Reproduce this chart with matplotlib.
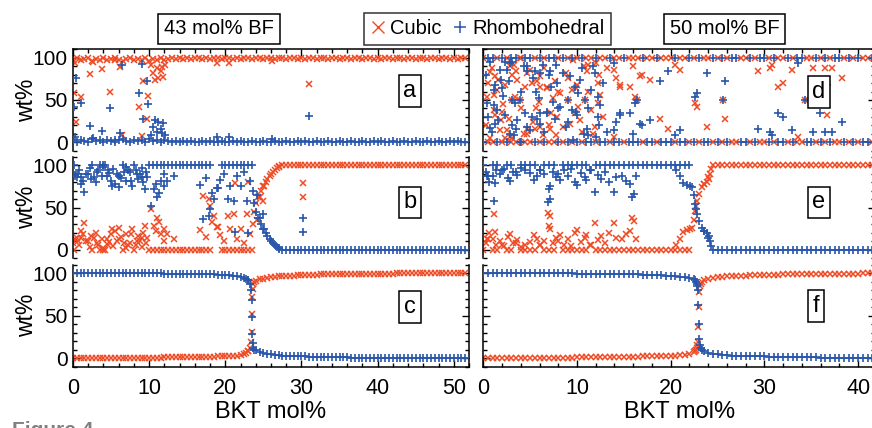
import numpy as np
import matplotlib.pyplot as plt
from matplotlib.lines import Line2D
from matplotlib.ticker import MultipleLocator

plt.rcParams['font.family'] = ['Liberation Sans', 'DejaVu Sans']

RED = '#ef4c26'
BLUE = '#2856aa'

# BKT mol% sampling grids (43 mol% BF left, 50 mol% BF right)
bkt_left = [0.0, 0.5, 1.0, 1.5, 2.0, 2.5, 3.0, 3.5, 4.0, 4.5,
            5.0, 5.5, 6.0, 6.5, 7.0, 7.5, 8.0, 8.5, 9.0, 9.5,
            10.0, 10.5, 11.0, 11.5, 12.0, 12.5, 13.0, 13.5, 14.0, 14.5,
            15.0, 15.5, 16.0, 16.5, 17.0, 17.5, 18.0, 18.5, 19.0, 19.5,
            20.0, 20.5, 21.0, 21.5, 22.0, 22.5, 23.0, 23.5, 24.0, 24.5,
            25.0, 25.5, 26.0, 26.5, 27.0, 27.5, 28.0, 28.5, 29.0, 29.5,
            30.0, 30.5, 31.0, 31.5, 32.0, 32.5, 33.0, 33.5, 34.0, 34.5,
            35.0, 35.5, 36.0, 36.5, 37.0, 37.5, 38.0, 38.5, 39.0, 39.5,
            40.0, 40.5, 41.0, 41.5, 42.0, 42.5, 43.0, 43.5, 44.0, 44.5,
            45.0, 45.5, 46.0, 46.5, 47.0, 47.5, 48.0, 48.5, 49.0, 49.5,
            50.0, 50.5, 51.0, 51.5]
bkt_right = [0.0, 0.5, 1.0, 1.5, 2.0, 2.5, 3.0, 3.5, 4.0, 4.5,
             5.0, 5.5, 6.0, 6.5, 7.0, 7.5, 8.0, 8.5, 9.0, 9.5,
             10.0, 10.5, 11.0, 11.5, 12.0, 12.5, 13.0, 13.5, 14.0, 14.5,
             15.0, 15.5, 16.0, 16.5, 17.0, 17.5, 18.0, 18.5, 19.0, 19.5,
             20.0, 20.5, 21.0, 21.5, 22.0, 22.5, 23.0, 23.5, 24.0, 24.5,
             25.0, 25.5, 26.0, 26.5, 27.0, 27.5, 28.0, 28.5, 29.0, 29.5,
             30.0, 30.5, 31.0, 31.5, 32.0, 32.5, 33.0, 33.5, 34.0, 34.5,
             35.0, 35.5, 36.0, 36.5, 37.0, 37.5, 38.0, 38.5, 39.0, 39.5,
             40.0, 40.5, 41.0, 41.5]

# cubic wt% on the grids; rhombohedral wt% = 100 - cubic
cub_a = [98, 100, 97, 99, 100, 96, 99, 98, 100, 97,
         99, 100, 98, 96, 99, 100, 97, 99, 98, 100,
         96, 99, 97, 100, 98, 99, 100, 99, 100, 99,
         100, 99, 100, 100, 99, 100, 99, 100, 100, 99,
         100, 100, 99, 100, 99, 100, 100, 99, 100, 100,
         99, 100, 100, 99, 100, 100, 99, 100, 100, 99,
         100, 99, 100, 100, 99, 100, 100, 99, 100, 100,
         99, 100, 100, 99, 100, 100, 99, 100, 100, 99,
         100, 99, 100, 100, 99, 100, 100, 99, 100, 100,
         99, 100, 100, 99, 100, 100, 99, 100, 100, 99,
         100, 99, 100, 100]
cub_b = [8, 14, 22, 32, 10, 0, 20, 0, 2, 12,
         18, 22, 26, 0, 18, 8, 0, 16, 3, 28,
         0, 0, 0, 0, 0, 0, 0, 0, 0, 0,
         0, 0, 0, 0, 0, 0, 0, 40, 27, 0,
         0, 0, 0, 0, 0, 0, 0, 0, 55, 62,
         75, 84, 90, 95, 98, 100, 100, 100, 100, 100,
         100, 100, 100, 100, 100, 100, 100, 100, 100, 100,
         100, 100, 100, 100, 100, 100, 100, 100, 100, 100,
         100, 100, 100, 100, 100, 100, 100, 100, 100, 100,
         100, 100, 100, 100, 100, 100, 100, 100, 100, 100,
         100, 100, 100, 100]
cub_c = [0, 0, 0, 0, 0, 0, 0, 0, 0, 0,
         0, 0, 0, 0, 0, 0, 0, 0, 0, 0,
         0, 0, 0, 0, 1, 1, 1, 1, 1, 1,
         1, 1, 1, 1, 1, 1, 1, 1, 2, 2,
         2, 2, 3, 3, 4, 5, 8, 52, 91, 93,
         94, 95, 95.5, 96, 96.5, 97, 97, 97.5, 97.5, 98,
         98, 98, 98.5, 98.5, 98.5, 99, 99, 99, 99, 99,
         99, 99, 99, 99.5, 99.5, 99.5, 99.5, 99.5, 99.5, 99.5,
         99.5, 99.5, 99.5, 99.5, 99.5, 100, 100, 100, 100, 100,
         100, 100, 100, 100, 100, 100, 100, 100, 100, 100,
         100, 100, 100, 100]
cub_d = [100, 0, 0, 100, 0, 100, 0, 0, 100, 0,
         0, 100, 0, 100, 0, 0, 100, 0, 100, 0,
         100, 0, 100, 100, 0, 100, 100, 0, 100, 100,
         0, 100, 100, 100, 0, 100, 100, 0, 100, 100,
         100, 0, 100, 100, 0, 100, 0, 100, 100, 0,
         100, 0, 100, 0, 0, 100, 100, 0, 100, 0,
         0, 100, 0, 100, 100, 0, 100, 0, 0, 100,
         100, 0, 100, 0, 100, 0, 0, 100, 0, 100,
         0, 100, 100, 0]
cub_e = [0, 12, 0, 0, 5, 0, 0, 8, 0, 0,
         0, 0, 6, 0, 0, 0, 10, 0, 0, 0,
         0, 0, 0, 5, 0, 0, 0, 0, 0, 0,
         0, 0, 0, 0, 0, 0, 0, 0, 0, 0,
         0, 0, 0, 0, 0, 35, 66, 78, 86, 100,
         100, 100, 100, 100, 100, 100, 100, 100, 100, 100,
         100, 100, 100, 100, 100, 100, 100, 100, 100, 100,
         100, 100, 100, 100, 100, 100, 100, 100, 100, 100,
         100, 100, 100, 100]
cub_f = [0, 0, 0, 0, 0, 0, 0, 0, 0, 0,
         0, 0, 0, 0, 0, 0, 0, 0, 0, 0,
         1, 1, 1, 1, 1, 1, 1, 1, 1, 1,
         1, 1, 1, 1, 2, 2, 2, 2, 2, 3,
         3, 3, 4, 4, 5, 7, 60, 92, 94, 95,
         95.5, 96, 96.5, 97, 97, 97.5, 97.5, 98, 98, 98,
         98, 98.5, 98.5, 98.5, 99, 99, 99, 99, 99, 99,
         99, 99, 99.5, 99.5, 99.5, 99.5, 99.5, 99.5, 99.5, 99.5,
         99.5, 100, 100, 100]

# extra (off-grid) samples
a_x = [0.1, 0.2, 0.4, 1.0, 2.2, 2.6, 3.8, 4.9, 5.5, 6.2,
       6.4, 8.7, 9.0, 9.2, 9.7, 9.9, 10.3, 10.5, 10.8, 11.0,
       11.2, 11.5, 11.7, 11.8, 12.1, 18.9, 20.5, 26.1, 31.0]
a_cub = [58, 94, 24, 54, 81, 95, 87, 60, 97, 89,
         8, 42, 7, 73, 28, 55, 92, 82, 74, 88,
         76, 85, 89, 77, 92, 94, 94, 96, 69]

b_x = [0.25, 0.75, 1.25, 1.75, 2.25, 2.75, 3.25, 3.75, 4.25, 4.75,
       5.25, 5.75, 6.25, 6.75, 7.25, 7.75, 8.25, 8.75, 9.25, 9.75,
       0.1, 0.6, 1.1, 2.4, 3.1, 3.9, 4.6, 5.1, 6.1, 6.9,
       7.6, 8.4, 9.1, 9.6,
       10.3, 10.6, 10.9, 11.0, 11.3, 11.6, 11.9, 12.0, 12.3, 13.2,
       16.7, 17.1, 17.5, 17.8, 18.0, 18.3, 18.9, 19.3,
       19.8, 20.3, 20.6, 21.2, 21.3, 21.5, 22.1, 22.5, 22.8, 23.0,
       23.3,
       23.6, 23.8, 24.1, 24.3, 24.7, 24.9, 25.1, 25.4, 25.9, 26.3,
       26.8, 27.1,
       30.2, 30.2]
b_cub = [12, 5, 18, 10, 3, 14, 6, 12, 0, 9,
         4, 10, 15, 8, 5, 24, 6, 10, 20, 14,
         0, 10, 14, 16, 8, 0, 6, 25, 12, 2,
         18, 10, 14, 8,
         48, 28, 22, 38, 33, 18, 25, 10, 18, 12,
         23, 64, 15, 60, 52, 33, 27, 17,
         10, 40, 25, 42, 79, 12, 24, 8, 42, 80,
         18,
         30, 45, 35, 62, 70, 58, 75, 80, 88, 92,
         97, 99,
         79, 63]

c_x = [22.75, 23.0, 23.2, 23.35, 23.45, 23.55, 23.6, 23.65, 23.75]
c_cub = [6, 8, 12, 19, 31, 72, 82, 88, 90]

d_x = [3.9, 0.7, 1.6, 1.1, 0.4, 1.1, 1.8, 2.9, 3.6, 5.0,
       5.7, 6.1, 6.8, 6.1, 4.3, 2.9, 4.7, 7.4, 7.9, 8.5,
       9.0, 9.5, 10.1, 10.3, 9.6, 11.1, 11.2, 12.2, 12.8, 11.7,
       13.9, 14.6, 15.7, 16.2, 16.4, 16.7, 16.0, 17.8, 18.9, 19.7,
       20.5, 21.0, 22.6, 22.8, 23.9, 25.6, 25.8, 29.3, 30.6, 30.8,
       31.4, 32.0, 32.9, 33.6, 34.3, 35.2, 36.5, 36.7, 38.3, 0.7,
       2.3, 2.5, 3.1, 4.7, 5.5, 6.4, 7.1, 7.8, 1.3, 2.0,
       3.1, 3.4, 3.9, 2.3, 1.3, 3.1, 5.2, 6.1, 6.8, 4.7,
       9.0, 10.0, 10.7, 11.2, 12.0, 13.2, 13.9, 12.2, 12.5, 14.6,
       16.9, 35.9, 37.2,
       0.3, 0.9, 1.5, 2.1, 2.7, 3.3, 4.0, 4.5, 5.3, 5.9,
       6.5, 7.2, 7.6, 8.2, 8.8, 9.3, 9.9, 10.5, 11.5, 12.4,
       0.5, 1.9, 3.5, 5.6, 7.0, 8.0, 9.8, 10.9, 11.9, 14.2]
d_cub = [100, 83, 74, 56, 54, 38, 14, 90, 74, 86,
         72, 78, 66, 18, 10, 6, 16, 52, 30, 18,
         76, 62, 42, 26, 98, 84, 60, 70, 30, 10,
         86, 66, 66, 54, 50, 78, 90, 74, 28, 16,
         92, 86, 46, 42, 18, 50, 28, 84, 88, 92,
         66, 70, 86, 6, 50, 88, 88, 32, 76, 5,
         5, 14, 5, 10, 16, 8, 16, 8, 32, 36,
         50, 54, 50, 68, 78, 80, 70, 66, 64, 82,
         50, 68, 90, 92, 94, 88, 6, 46, 56, 68,
         80, 66, 88,
         20, 88, 62, 45, 28, 92, 40, 66, 24, 48,
         88, 35, 72, 58, 82, 22, 64, 12, 38, 80,
         70, 26, 84, 40, 20, 60, 34, 50, 18, 76]

e_x = [0.3, 0.6, 1.0, 1.1, 1.4, 1.8, 2.2, 2.6, 2.9, 3.2,
       3.6, 4.0, 4.5, 5.0, 5.4, 5.7, 6.1, 6.5, 6.9, 7.1,
       7.1, 7.4, 7.8, 8.2, 8.6, 9.0, 9.4, 9.8, 10.0, 10.4,
       10.8, 11.0, 11.4, 11.9, 12.2, 12.6, 13.0, 13.4, 13.9, 14.2,
       14.8, 15.2, 15.7, 15.9, 16.1, 16.3, 20.6, 21.0, 21.3, 21.7,
       22.1, 22.3, 22.6, 22.7, 22.8, 23.3, 23.6, 23.9, 24.1, 24.2,
       24.3, 7.0, 0.4, 1.3]
e_cub = [8, 20, 13, 42, 6, 10, 4, 15, 19, 8,
         11, 3, 6, 9, 17, 13, 5, 10, 44, 25,
         40, 8, 14, 17, 6, 12, 4, 20, 23, 9,
         14, 17, 6, 31, 11, 16, 8, 20, 32, 14,
         12, 18, 22, 38, 34, 12, 6, 12, 21, 23,
         24, 26, 46, 52, 58, 74, 78, 80, 84, 90,
         96, 28, 12, 21]

f_x = [22.6, 22.7, 22.8, 22.85, 22.9, 22.95, 23.05, 23.1, 23.2, 23.3]
f_cub = [8, 10, 12, 15, 19, 37, 78, 85, 88, 90]

panels = [
    ('a', bkt_left, cub_a, a_x, a_cub, 0, 0),
    ('b', bkt_left, cub_b, b_x, b_cub, 1, 0),
    ('c', bkt_left, cub_c, c_x, c_cub, 2, 0),
    ('d', bkt_right, cub_d, d_x, d_cub, 0, 1),
    ('e', bkt_right, cub_e, e_x, e_cub, 1, 1),
    ('f', bkt_right, cub_f, f_x, f_cub, 2, 1),
]

W, H = 872, 428
fig = plt.figure(figsize=(W / 100, H / 100), dpi=100)

col_x = [(73, 469), (483.3, 875)]
row_y = [(49.5, 150.5), (157, 258), (265, 366.5)]
col_xlim = [52, 41.8]
box_pos = {'a': (0.851, 0.589), 'b': (0.851, 0.55), 'c': (0.851, 0.586),
           'd': (0.857, 0.58), 'e': (0.857, 0.55), 'f': (0.849, 0.596)}

for label, grid, cub, ex_x, ex_cub, row, col in panels:
    x0, x1 = col_x[col]
    y0, y1 = row_y[row]
    ax = fig.add_axes([x0 / W, 1 - y1 / H, (x1 - x0) / W, (y1 - y0) / H])

    x = np.concatenate([grid, ex_x])
    c = np.concatenate([cub, ex_cub])
    ax.plot(x, c, ls='none', marker='x', ms=4.8, mew=1.1, color=RED, zorder=2)
    ax.plot(x, 100 - c, ls='none', marker='+', ms=5.8, mew=1.2, color=BLUE, zorder=3)

    ax.set_xlim(0, col_xlim[col])
    ax.set_ylim(-10, 110)
    ax.set_yticks([0, 50, 100])
    ax.yaxis.set_minor_locator(MultipleLocator(10))
    ax.xaxis.set_major_locator(MultipleLocator(10))
    ax.xaxis.set_minor_locator(MultipleLocator(2))

    for s in ax.spines.values():
        s.set_linewidth(1.1)
    ax.spines['top'].set_visible(row == 0)
    ax.spines['bottom'].set_visible(row == 2)

    ax.tick_params(which='both', direction='in', left=True, right=True,
                   top=(row == 0), bottom=(row == 2), width=1.0,
                   labelbottom=(row == 2), labelleft=(col == 0))
    ax.tick_params(which='major', length=5)
    ax.tick_params(which='minor', length=3)
    ax.tick_params(axis='y', which='major', pad=4, labelsize=15)
    ax.tick_params(axis='x', which='major', pad=8, labelsize=15.5)

    if col == 0:
        ax.set_ylabel('wt%', fontsize=16.5)
        ax.yaxis.set_label_coords(-0.089, 0.5)
    if row == 2:
        ax.set_xlabel('BKT mol%', fontsize=17)
        ax.xaxis.set_label_coords(0.5, -0.34)

    bx, by = box_pos[label]
    ax.text(bx, by, label, transform=ax.transAxes, ha='center', va='center',
            fontsize=17, zorder=5,
            bbox=dict(boxstyle='square,pad=0.2', fc='white', ec='black', lw=1.1))

# headers
for txt, cx in [('43 mol% BF', 219), ('50 mol% BF', 724.5)]:
    fig.text(cx / W, 1 - 29 / H, txt, ha='center', va='center', fontsize=14.5,
             bbox=dict(boxstyle='square,pad=0.28', fc='white', ec='black', lw=1.1))

handles = [Line2D([], [], ls='none', marker='x', ms=8, mew=1.0, color=RED),
           Line2D([], [], ls='none', marker='+', ms=9, mew=1.1, color=BLUE)]
leg = fig.legend(handles, ['Cubic', 'Rhombohedral'], loc='center',
                 bbox_to_anchor=(487.5 / W, 1 - 29 / H), ncol=2, fontsize=14.5,
                 frameon=True, fancybox=False, edgecolor='black',
                 handlelength=0.7, handletextpad=0.25, columnspacing=0.6,
                 borderpad=0.3, borderaxespad=0)
leg.get_frame().set_linewidth(1.1)

fig.text(12 / W, 1 - 421 / H, 'Figure 4', ha='left', va='top', fontsize=15,
         fontweight='bold', color='#808080')

fig.savefig('out.png', dpi=100)
